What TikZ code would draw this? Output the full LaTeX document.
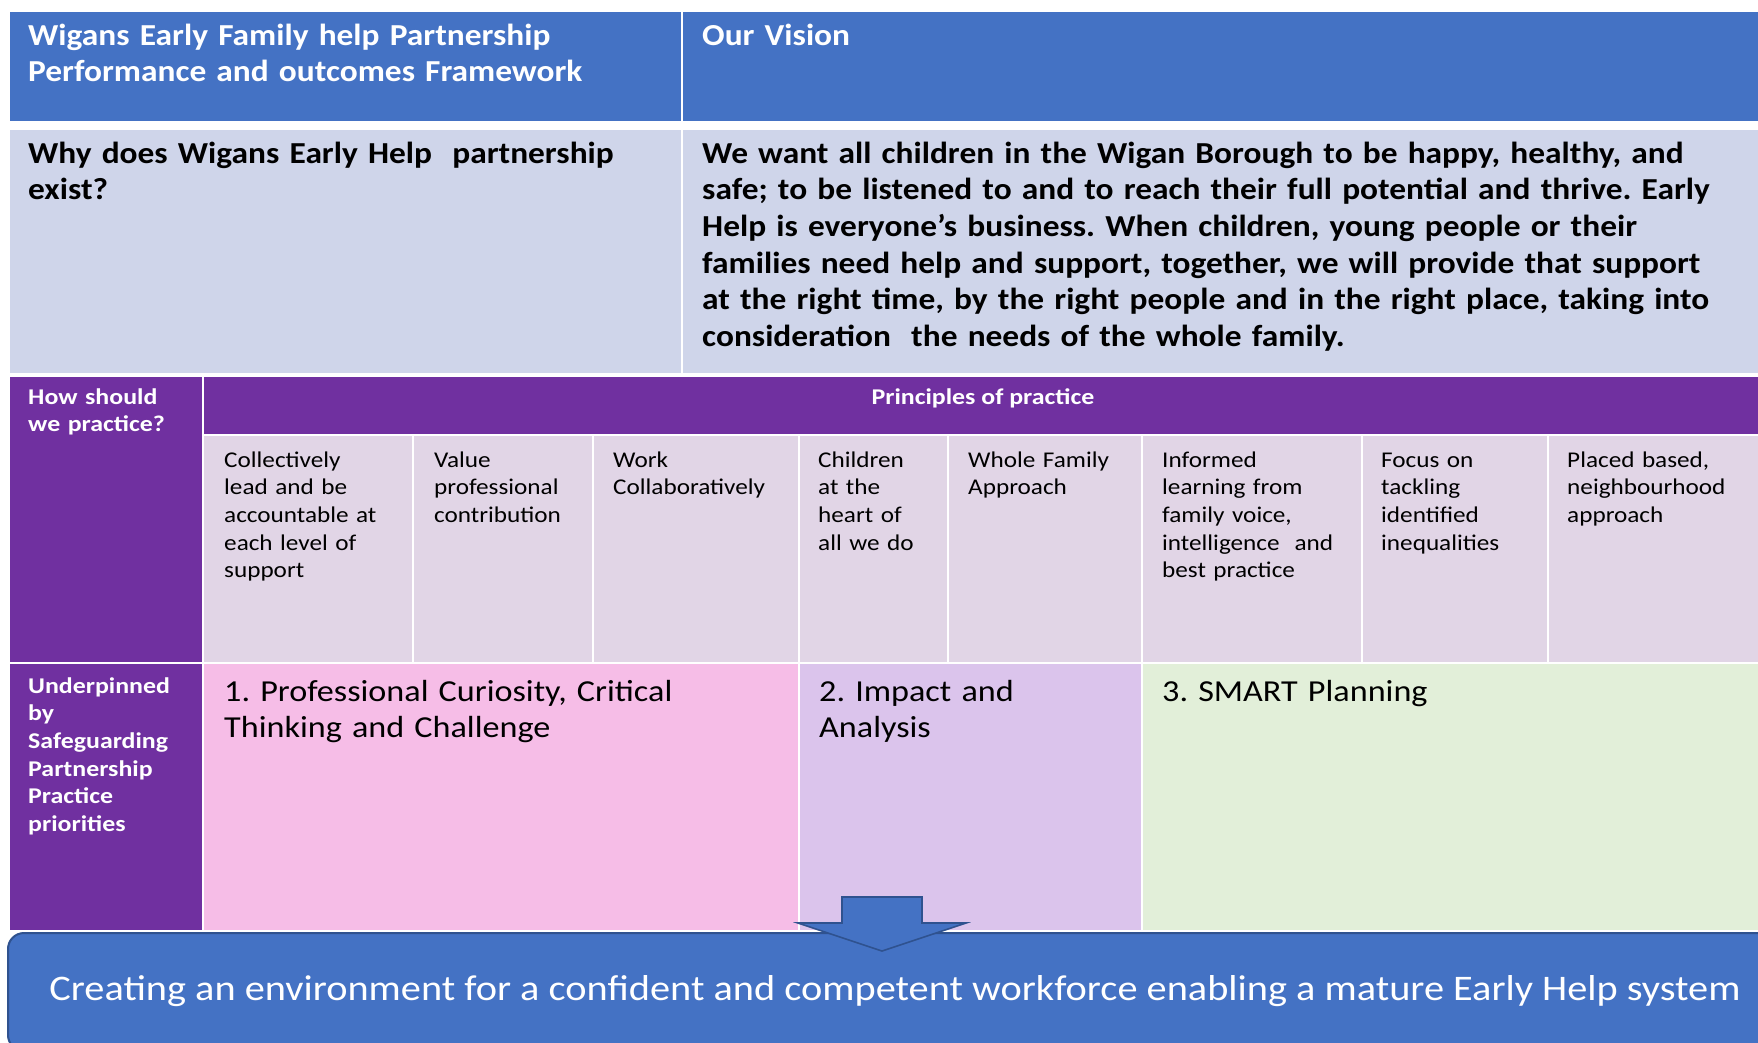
\documentclass[tikz,border=0pt]{standalone}
\usepackage{fontspec}
\setmainfont{Carlito}[FakeStretch=1.12]
\newfontfamily\bigbf{Carlito}[FakeStretch=1.095]
\newfontfamily\smallbf{Carlito}[FakeStretch=1.15]
\usepackage{tikz}
\usetikzlibrary{positioning}
\usepackage{xcolor}
\definecolor{ofblue}{HTML}{4472C4}
\definecolor{navyline}{HTML}{2F528F}
\definecolor{rowlight}{HTML}{CFD5EA}
\definecolor{ppurple}{HTML}{7030A0}
\definecolor{cellmauve}{HTML}{E1D5E6}
\definecolor{prpink}{HTML}{F6BDE7}
\definecolor{prlav}{HTML}{DBC4EC}
\definecolor{prgreen}{HTML}{E2EFD9}
\newcommand{\bigtxt}{\fontsize{30.5}{36.7}\selectfont}
\newcommand{\smalltxt}{\fontsize{22.5}{27.7}\selectfont}
\frenchspacing
\tikzset{
    cell/.style={
        draw=white,
        line width=2.4pt,
        anchor=north west,
        inner sep=0pt,
        rectangle
    },
    txt/.style={
        anchor=base west,
        inner sep=0pt,
        text width=1500pt,
        align=left
    }
}

\begin{document}
\begin{tikzpicture}[x=1pt,y=-1pt]
  \useasboundingbox (0,0) rectangle (1758,1042);

  % Top rows
  \node[cell, fill=ofblue, minimum width=673pt, minimum height=111pt] (title) at (8,10) {};
  \node[cell, fill=ofblue, minimum width=1090pt, minimum height=111pt] (visionhead) at (681,10) {};
  \node[cell, fill=rowlight, minimum width=673pt, minimum height=245pt] (why) at (8,128) {};
  \node[cell, fill=rowlight, minimum width=1090pt, minimum height=245pt] (vision) at (681,128) {};

  % Principles of practice
  \node[cell, fill=ppurple, minimum width=194pt, minimum height=287pt] (how) at (8,375) {};
  \node[cell, fill=ppurple, minimum width=1570pt, minimum height=59pt] (princhead) at (202,375) {};
  \node[cell, fill=cellmauve, minimum width=210pt, minimum height=228pt] (p1) at (202,434) {};
  \node[cell, fill=cellmauve, minimum width=180pt, minimum height=228pt] (p2) at (412,434) {};
  \node[cell, fill=cellmauve, minimum width=206pt, minimum height=228pt] (p3) at (592,434) {};
  \node[cell, fill=cellmauve, minimum width=149pt, minimum height=228pt] (p4) at (798,434) {};
  \node[cell, fill=cellmauve, minimum width=194pt, minimum height=228pt] (p5) at (947,434) {};
  \node[cell, fill=cellmauve, minimum width=220pt, minimum height=228pt] (p6) at (1141,434) {};
  \node[cell, fill=cellmauve, minimum width=186pt, minimum height=228pt] (p7) at (1361,434) {};
  \node[cell, fill=cellmauve, minimum width=225pt, minimum height=228pt] (p8) at (1547,434) {};

  % Practice priorities
  \node[cell, fill=ppurple, minimum width=194pt, minimum height=268pt] (under) at (8,662) {};
  \node[cell, fill=prpink, minimum width=596pt, minimum height=268pt] (prio1) at (202,662) {};
  \node[cell, fill=prlav, minimum width=343pt, minimum height=268pt] (prio2) at (798,662) {};
  \node[cell, fill=prgreen, minimum width=631pt, minimum height=268pt] (prio3) at (1141,662) {};

  % Banner and arrow
  \node[draw=navyline, line width=2pt, fill=ofblue, rounded corners=16pt, anchor=north west,
        minimum width=1800pt, minimum height=118pt] (banner) at (7,932) {};
  \draw[draw=navyline, line width=1.6pt, fill=ofblue, line join=miter]
    (842,897) -- (922,897) -- (922,923) -- (966,923) -- (882,951) -- (798,923) -- (842,923) -- cycle;

  % Texts
  \node[txt, text=white, font=\bigtxt\bigbf\bfseries] at (28,45) {Wigans Early Family help Partnership\\Performance and outcomes Framework};
  \node[txt, text=white, font=\bigtxt\bigbf\bfseries] at (702,45) {Our Vision};
  \node[txt, font=\bigtxt\bigbf\bfseries] at (28,163) {Why does Wigans Early Help\ \ partnership\\exist?};
  \node[txt, font=\bigtxt\bigbf\bfseries] at (702,163) {We want all children in the Wigan Borough to be happy, healthy, and\\
    safe; to be listened to and to reach their full potential and thrive. Early\\
    Help is everyone’s business. When children, young people or their\\
    families need help and support, together, we will provide that support\\
    at the right time, by the right people and in the right place, taking into\\
    consideration\ \ the needs of the whole family.};

  \node[txt, text=white, font=\smalltxt\smallbf\bfseries] at (28,404) {How should\\we practice?};
  \node[anchor=base, inner sep=0pt, text=white, font=\smalltxt\smallbf\bfseries] at (983,404) {Principles of practice};
  \node[txt, font=\smalltxt] at (224,467) {Collectively\\lead and be\\accountable at\\each level of\\support};
  \node[txt, font=\smalltxt] at (434,467) {Value\\professional\\contribution};
  \node[txt, font=\smalltxt] at (613,467) {Work\\Collaboratively};
  \node[txt, font=\smalltxt] at (818,467) {Children\\at the\\heart of\\all we do};
  \node[txt, font=\smalltxt] at (968,467) {Whole Family\\Approach};
  \node[txt, font=\smalltxt] at (1162,467) {Informed\\learning from\\family voice,\\intelligence\ \ and\\best practice};
  \node[txt, font=\smalltxt] at (1381,467) {Focus on\\tackling\\identified\\inequalities};
  \node[txt, font=\smalltxt] at (1567,467) {Placed based,\\neighbourhood\\approach};

  \node[txt, text=white, font=\smalltxt\smallbf\bfseries] at (28,693) {Underpinned\\by\\Safeguarding\\Partnership\\Practice\\priorities};
  \node[txt, font=\bigtxt] at (224,701) {1. Professional Curiosity, Critical\\Thinking and Challenge};
  \node[txt, font=\bigtxt] at (819,701) {2. Impact and\\Analysis};
  \node[txt, font=\bigtxt] at (1162,701) {3. SMART Planning};

  \node[anchor=base, inner sep=0pt, text=white, font=\fontsize{36}{42}\selectfont] at (895,1000) {Creating an environment for a confident and competent workforce enabling a mature Early Help system};
\end{tikzpicture}
\end{document}
